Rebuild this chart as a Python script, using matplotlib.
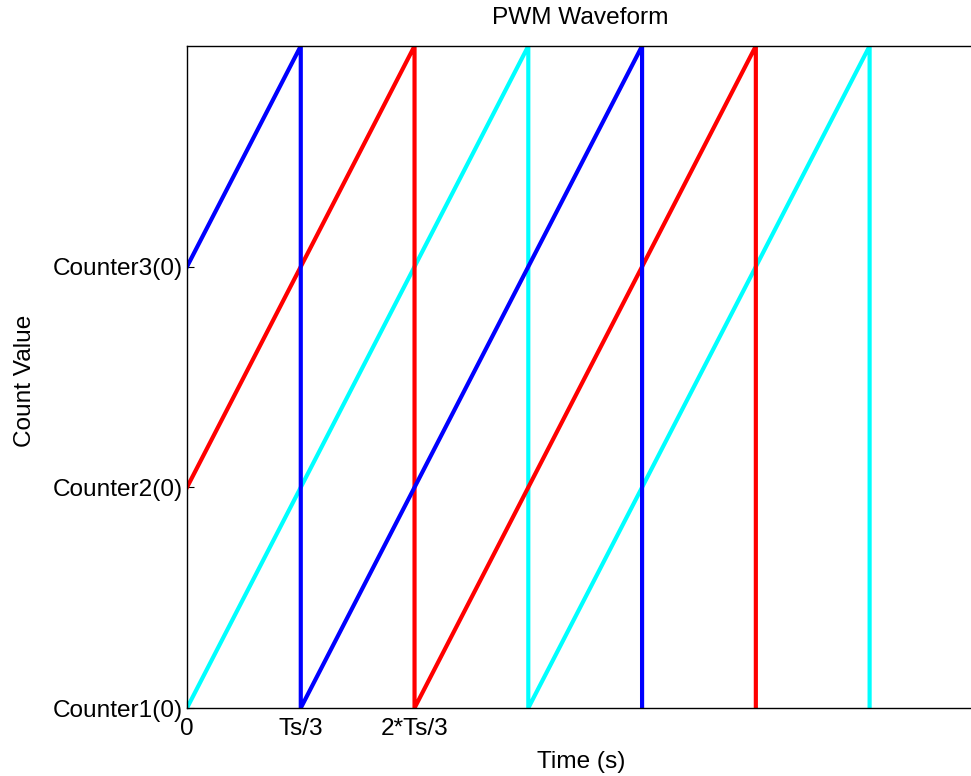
import matplotlib
matplotlib.use("Agg")
import matplotlib.pyplot as plt

plt.rcParams['font.family'] = ['Liberation Sans', 'DejaVu Sans']

Ts = 1.0

# Counter waveforms: breakpoints (time in units of Ts, count value in units of Counter(0) step)
counter1_t = [0, 1, 1, 2, 2]
counter1_v = [0, 3, 0, 3, 0]
counter2_t = [0, 2/3, 2/3, 5/3, 5/3]
counter2_v = [1, 3, 0, 3, 0]
counter3_t = [0, 1/3, 1/3, 4/3, 4/3]
counter3_v = [2, 3, 0, 3, 0]

xtick_pos = [0, Ts/3, 2*Ts/3]
xtick_labels = ['0', 'Ts/3', '2*Ts/3']
ytick_pos = [0, 1, 2]
ytick_labels = ['Counter1(0)', 'Counter2(0)', 'Counter3(0)']

FS = 17.6

fig = plt.figure(figsize=(9.71, 7.76), dpi=100)
# right edge of the axes sits just outside the figure
ax = fig.add_axes([187/971, 1 - 708/776, 785/971, 662/776])

ax.plot([t * Ts for t in counter1_t], counter1_v, color='#00ffff', lw=3)
ax.plot([t * Ts for t in counter2_t], counter2_v, color='#ff0000', lw=3)
ax.plot([t * Ts for t in counter3_t], counter3_v, color='#0000ff', lw=3)

ax.set_xlim(0, 2.3 * Ts)
ax.set_ylim(0, 3)
ax.set_xticks(xtick_pos)
ax.set_xticklabels(xtick_labels)
ax.set_yticks(ytick_pos)
ax.set_yticklabels(ytick_labels)
ax.tick_params(direction='in', length=5, labelsize=FS)
ax.tick_params(axis='x', pad=7)
ax.tick_params(axis='y', pad=3)
for s in ax.spines.values():
    s.set_linewidth(1)
ax.spines['right'].set_visible(False)

fig.text(581/971, 1 - 762/776, 'Time (s)', fontsize=FS, ha='center', va='center')
fig.text(25/971, 1 - 381/776, 'Count Value', fontsize=FS, ha='center', va='center',
         rotation=90)
fig.text(580/971, 1 - 18/776, 'PWM Waveform', fontsize=FS, ha='center', va='center')

fig.savefig('out.png', dpi=100)
